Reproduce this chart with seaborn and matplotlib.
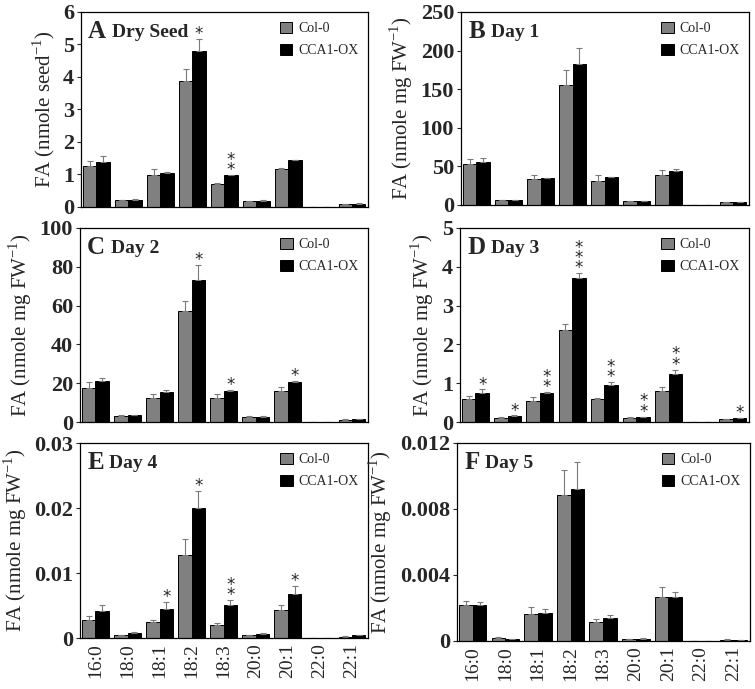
import numpy as np
import pandas as pd
import matplotlib
matplotlib.use("Agg")
import matplotlib.pyplot as plt
from matplotlib.patches import Patch
from matplotlib.ticker import FixedLocator, FuncFormatter
import seaborn as sns

fatty_acids = ['16:0', '18:0', '18:1', '18:2', '18:3', '20:0', '20:1', '22:0', '22:1']
lines = ['Col-0', 'CCA1-OX']

# mean values per panel (Col-0, CCA1-OX) and upper error (SE)
seed_col = [1.25, 0.20, 0.97, 3.87, 0.70, 0.17, 1.17, 0.0, 0.08]
seed_col_se = [0.16, 0.02, 0.20, 0.38, 0.04, 0.01, 0.02, 0.0, 0.02]
seed_ox = [1.37, 0.23, 1.05, 4.80, 0.97, 0.19, 1.44, 0.0, 0.10]
seed_ox_se = [0.19, 0.01, 0.03, 0.37, 0.02, 0.01, 0.01, 0.0, 0.02]
seed_stars = ['', '', '', '*', '**', '', '', '', '']

day1_col = [53.5, 6.5, 34.0, 155.0, 31.0, 5.0, 39.0, 0.0, 3.5]
day1_col_se = [6.0, 0.5, 5.0, 20.0, 8.0, 0.5, 6.0, 0.0, 0.3]
day1_ox = [55.5, 6.5, 34.5, 183.0, 35.8, 5.0, 44.0, 0.0, 3.5]
day1_ox_se = [4.8, 0.5, 1.0, 20.0, 1.0, 0.5, 3.0, 0.0, 0.3]
day1_stars = [''] * 9

day2_col = [17.5, 3.3, 12.4, 57.2, 12.4, 2.8, 16.2, 0.0, 1.2]
day2_col_se = [3.1, 0.3, 2.2, 5.3, 2.0, 0.2, 2.0, 0.0, 0.2]
day2_ox = [21.3, 3.4, 15.6, 73.4, 16.2, 2.8, 20.8, 0.0, 1.3]
day2_ox_se = [1.4, 0.4, 1.1, 7.5, 0.3, 0.2, 0.4, 0.0, 0.1]
day2_stars = ['', '', '', '*', '*', '', '*', '', '']

day3_col = [0.59, 0.10, 0.55, 2.36, 0.59, 0.10, 0.80, 0.0, 0.07]
day3_col_se = [0.09, 0.02, 0.09, 0.17, 0.02, 0.02, 0.10, 0.0, 0.01]
day3_ox = [0.75, 0.16, 0.75, 3.72, 0.95, 0.13, 1.23, 0.0, 0.10]
day3_ox_se = [0.09, 0.01, 0.02, 0.12, 0.08, 0.01, 0.12, 0.0, 0.01]
day3_stars = ['*', '*', '**', '***', '**', '**', '**', '', '*']

day4_col = [0.00273, 0.0004, 0.00242, 0.01276, 0.00206, 0.0004, 0.00437, 0.0, 0.0002]
day4_col_se = [0.00062, 0.0001, 0.00031, 0.00252, 0.00031, 0.0001, 0.00067, 0.0, 0.0001]
day4_ox = [0.00417, 0.0008, 0.00453, 0.01997, 0.0051, 0.0006, 0.00684, 0.0, 0.0004]
day4_ox_se = [0.00087, 0.0001, 0.00097, 0.00262, 0.00072, 0.0001, 0.00119, 0.0, 0.0001]
day4_stars = ['', '', '*', '*', '**', '', '*', '', '']

day5_col = [0.00219, 0.0002, 0.00162, 0.00884, 0.00113, 0.00012, 0.00265, 0.0, 0.00005]
day5_col_se = [0.00024, 0.00002, 0.00042, 0.00152, 0.00023, 0.00002, 0.00063, 0.0, 0.00005]
day5_ox = [0.00219, 0.0001, 0.00168, 0.00923, 0.00142, 0.00012, 0.00269, 0.0, 0.00005]
day5_ox_se = [0.00018, 0.00002, 0.00028, 0.00164, 0.00016, 0.00006, 0.00028, 0.0, 0.00001]
day5_stars = [''] * 9

sup = '$^{\\mathregular{-1}}$'
panels = [
    ('A', 'Dry Seed', seed_col, seed_col_se, seed_ox, seed_ox_se, seed_stars,
     [0, 1, 2, 3, 4, 5, 6], 'FA (nmole seed' + sup + ')'),
    ('B', 'Day 1', day1_col, day1_col_se, day1_ox, day1_ox_se, day1_stars,
     [0, 50, 100, 150, 200, 250], 'FA (nmole mg FW' + sup + ')'),
    ('C', 'Day 2', day2_col, day2_col_se, day2_ox, day2_ox_se, day2_stars,
     [0, 20, 40, 60, 80, 100], 'FA (nmole mg FW' + sup + ')'),
    ('D', 'Day 3', day3_col, day3_col_se, day3_ox, day3_ox_se, day3_stars,
     [0, 1, 2, 3, 4, 5], 'FA (nmole mg FW' + sup + ')'),
    ('E', 'Day 4', day4_col, day4_col_se, day4_ox, day4_ox_se, day4_stars,
     [0, 0.01, 0.02, 0.03], 'FA (nmole mg FW' + sup + ')'),
    ('F', 'Day 5', day5_col, day5_col_se, day5_ox, day5_ox_se, day5_stars,
     [0, 0.004, 0.008, 0.012], 'FA (nmole mg FW' + sup + ')'),
]

# axes rectangles in figure fraction (left, bottom, width, height)
rects = [
    (0.1073, 0.6996, 0.3801, 0.2830),
    (0.6106, 0.7025, 0.3815, 0.2801),
    (0.1060, 0.3875, 0.3815, 0.2816),
    (0.6093, 0.3875, 0.3828, 0.2816),
    (0.1060, 0.0740, 0.3815, 0.2830),
    (0.6053, 0.0697, 0.3881, 0.2874),
]

sns.set_style('ticks')
plt.rcParams['font.family'] = ['Liberation Serif', 'DejaVu Serif']
plt.rcParams['mathtext.fontset'] = 'custom'
plt.rcParams['mathtext.rm'] = 'Liberation Serif'

palette = {'Col-0': '#808080', 'CCA1-OX': '#000000'}

fig = plt.figure(figsize=(7.55, 6.89), dpi=100)

for i, (letter, title, col, col_se, ox, ox_se, stars, yticks, ylabel) in enumerate(panels):
    ax = fig.add_axes(rects[i])
    df = pd.DataFrame({
        'fa': fatty_acids * 2,
        'line': ['Col-0'] * 9 + ['CCA1-OX'] * 9,
        'value': col + ox,
    })
    sns.barplot(data=df, x='fa', y='value', hue='line', order=fatty_acids,
                hue_order=lines, palette=palette, edgecolor='black', linewidth=0.7,
                width=0.84, gap=0, errorbar=None, legend=False, ax=ax)

    # upper error bars on each bar
    for cont, se in zip(ax.containers, [col_se, ox_se]):
        xs = [b.get_x() + b.get_width() / 2 for b in cont]
        ys = [b.get_height() for b in cont]
        ax.errorbar(xs, ys, yerr=[np.zeros(len(se)), se], fmt='none',
                    ecolor='#7a7a7a', elinewidth=0.8, capsize=2.5, capthick=0.8, zorder=1)
        if cont is ax.containers[1]:
            for x, y, e, s in zip(xs, ys, se, stars):
                if s:
                    ax.annotate('\n'.join(s), xy=(x, y + e), xytext=(0, -3),
                                textcoords='offset points', ha='center', va='bottom',
                                fontsize=12, linespacing=0.45, family='DejaVu Sans')

    ax.set_xlim(-0.48, 8.5)
    ax.set_ylim(yticks[0], yticks[-1])
    ax.yaxis.set_major_locator(FixedLocator(yticks))
    ax.yaxis.set_major_formatter(FuncFormatter(lambda v, p: '0' if v == 0 else f'{v:g}'))
    ax.tick_params(axis='y', labelsize=16, length=3, width=0.8, pad=2)
    ax.tick_params(axis='x', length=0, labelsize=14, rotation=90)
    for lab in ax.get_yticklabels():
        lab.set_fontweight('bold')
    if i < 4:
        ax.set_xticklabels([])
    ax.set_xlabel('')
    ax.set_ylabel(ylabel, fontsize=15, labelpad=4)
    for sp in ax.spines.values():
        sp.set_visible(True)
        sp.set_linewidth(0.9)
        sp.set_color('black')

    lt = ax.text(0.025, 0.96, letter, transform=ax.transAxes, fontsize=18,
                 fontweight='bold', ha='left', va='top')
    ax.annotate(title, xy=(1, 0), xycoords=lt, xytext=(4, 1), textcoords='offset points',
                fontsize=14, fontweight='bold', ha='left', va='bottom')

    handles = [Patch(facecolor=palette[l], edgecolor='black', linewidth=0.7) for l in lines]
    ax.legend(handles, lines, loc='upper right', frameon=False, fontsize=10,
              handlelength=0.9, handleheight=0.9, handletextpad=0.4,
              labelspacing=0.6, borderaxespad=0.3)

fig.savefig('out.png', dpi=100)
